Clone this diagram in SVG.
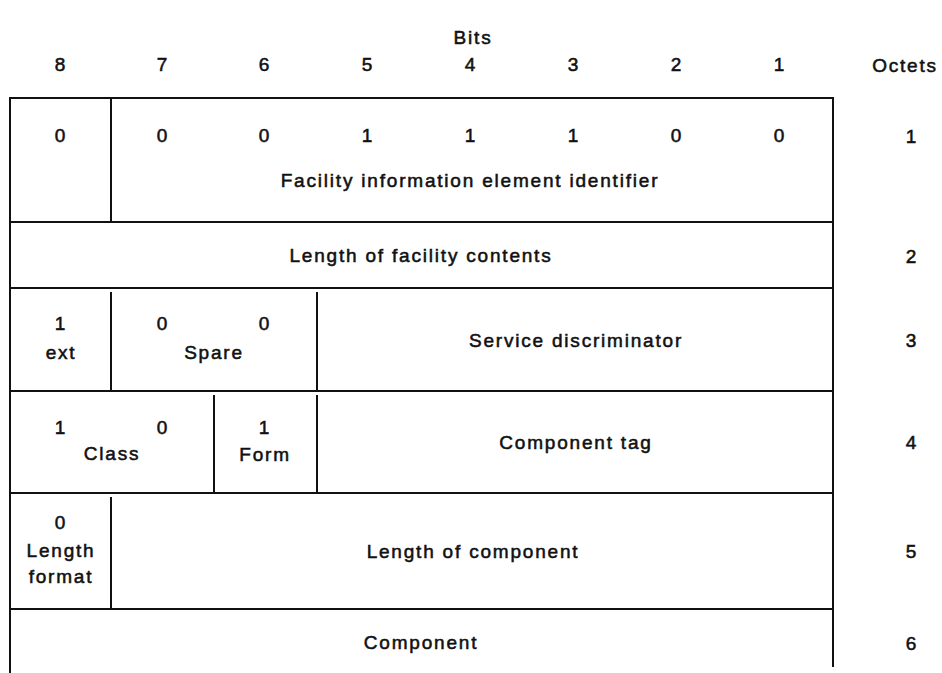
<svg xmlns="http://www.w3.org/2000/svg" width="942" height="673" viewBox="0 0 942 673">
<style>
text{font-family:"Liberation Sans",Arial,sans-serif;font-size:19px;letter-spacing:1.8px;fill:#111;text-anchor:middle;dominant-baseline:central;stroke:#111;stroke-width:0.55}
.ln{stroke:#111;stroke-width:2;fill:none}
</style>
<rect width="942" height="673" fill="#fff"/>
<g id="header">
<text x="473" y="37">Bits</text>
<text x="61" y="64">8</text><text x="163" y="64">7</text><text x="265" y="64">6</text><text x="368" y="64">5</text>
<text x="471" y="64">4</text><text x="574" y="64">3</text><text x="677" y="64">2</text><text x="780" y="64">1</text>
<text x="905" y="65">Octets</text>
</g>
<g id="connectors">
<path class="ln" d="M10,673 V98 H833 V667"/>
<path class="ln" d="M10,222 H833 M10,288 H833 M10,391 H833 M10,493 H833 M10,609 H833"/>
<path class="ln" d="M111,98 V222 M111,292 V391 M317,292 V391 M214,395 V493 M317,395 V493 M111,497 V609"/>
</g>
<g id="octet1">
<text x="61" y="135">0</text><text x="163" y="135">0</text><text x="265" y="135">0</text><text x="368" y="135">1</text>
<text x="471" y="135">1</text><text x="574" y="135">1</text><text x="677" y="135">0</text><text x="780" y="135">0</text>
<text x="470" y="180">Facility information element identifier</text>
<text x="912" y="136">1</text>
</g>
<g id="octet2">
<text x="421" y="255">Length of facility contents</text>
<text x="912" y="256">2</text>
</g>
<g id="octet3">
<text x="61" y="323">1</text><text x="61" y="352">ext</text>
<text x="163" y="323">0</text><text x="265" y="323">0</text><text x="214" y="352">Spare</text>
<text x="576" y="340">Service discriminator</text>
<text x="912" y="340">3</text>
</g>
<g id="octet4">
<text x="61" y="427">1</text><text x="163" y="427">0</text><text x="112" y="453">Class</text>
<text x="265" y="427">1</text><text x="265" y="454">Form</text>
<text x="576" y="442">Component tag</text>
<text x="912" y="442">4</text>
</g>
<g id="octet5">
<text x="61" y="522">0</text><text x="61" y="550">Length</text><text x="61" y="576">format</text>
<text x="473" y="551">Length of component</text>
<text x="912" y="551">5</text>
</g>
<g id="octet6">
<text x="421" y="642">Component</text>
<text x="912" y="643">6</text>
</g>
</svg>
